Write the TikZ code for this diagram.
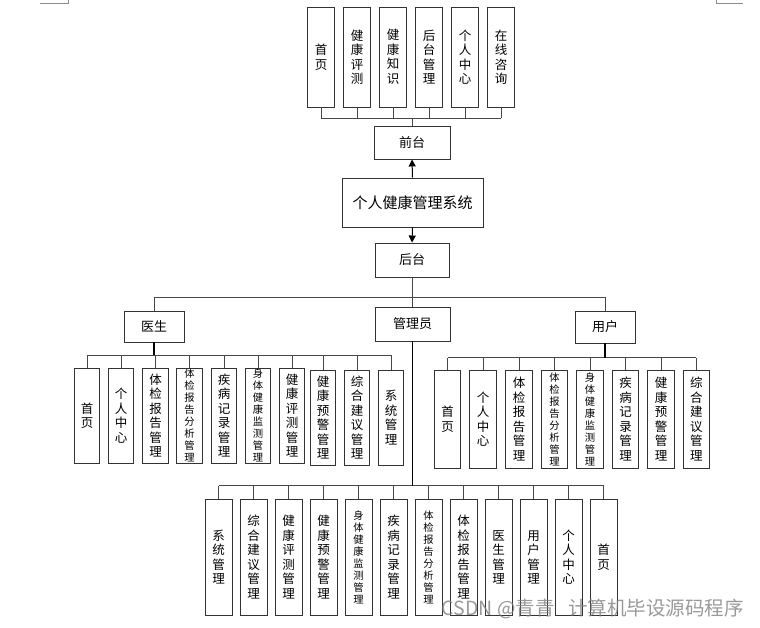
\documentclass[tikz,border=0pt]{standalone}
\usepackage{fontspec}
\newfontfamily\cjk{Noto Sans CJK SC}
\usetikzlibrary{arrows.meta}
\newcommand\fA{\fontsize{12.5}{14.5}\selectfont}
\newcommand\fB{\fontsize{10.3}{12}\selectfont}
\begin{document}
\begin{tikzpicture}[x=1pt,y=-1pt,
  ln/.style={draw=black!72, line width=0.9pt},
  trunk/.style={draw=black, line width=1.3pt},
  arr/.style={draw=black, line width=1pt, -{Triangle[length=7pt,width=7pt]}},
  bx/.style={draw=black!80, line width=0.9pt, fill=white, inner sep=0pt, align=center},
  hb/.style={bx, font=\cjk\fontsize{13}{15}\selectfont}]
\useasboundingbox (0,0) rectangle (760,628);
% corner marks
\draw[black!45, line width=0.8pt] (40,3) -- (68.3,3) -- (68.3,0);
\draw[black!45, line width=0.8pt] (716.7,0) -- (716.7,3) -- (742.7,3);

% top row
\foreach \x/\t [count=\i] in {321/首\\页, 357/健\\康\\评\\测, 393/健\\康\\知\\识, 429/后\\台\\管\\理, 465/个\\人\\中\\心, 501/在\\线\\咨\\询}
  \node[bx, font=\cjk\fA, minimum width=27pt, minimum height=100pt] (t\i) at (\x,57) {\t};
\node[hb, minimum width=76pt, minimum height=33pt] (qt) at (412,142.5) {前台};
\node[bx, font=\cjk\fontsize{15}{17}\selectfont, minimum width=141pt, minimum height=49pt] (sys) at (412.5,202.5) {个人健康管理系统};
\node[hb, minimum width=74pt, minimum height=34pt] (ht) at (412,260) {后台};
\coordinate (tb) at (412,118);
\foreach \i in {1,...,6} \draw[ln] (t\i.south) -- (t\i.south |- tb);
\draw[ln] (t1.south |- tb) -- (t6.south |- tb);
\draw[ln] (qt.north) -- (qt.north |- tb);
\draw[arr] (sys.north) -- (qt.south);
\draw[arr] (sys.south) -- (ht.north);

% second level
\node[hb, minimum width=60pt, minimum height=31pt] (ys) at (154,326.5) {医生};
\node[hb, minimum width=75pt, minimum height=34pt] (gl) at (412.5,324) {管理员};
\node[hb, minimum width=60pt, minimum height=32pt] (yh) at (605,327) {用户};
\coordinate (mb) at (412,297.5);
\draw[ln] (ht.south) -- (ht.south |- mb);
\draw[ln] (ys.north) -- (ys.north |- mb) -- (yh.north |- mb) -- (yh.north);
\draw[ln] (gl.north) -- (gl.north |- mb);

% doctor
\foreach \x/\y/\t/\s [count=\i] in {
  87/415.5/首\\页/\fA,
  121/415.5/个\\人\\中\\心/\fA,
  155.5/415.5/体\\检\\报\\告\\管\\理/\fA,
  189.5/415.5/体\\检\\报\\告\\分\\析\\管\\理/\fB,
  224/415.5/疾\\病\\记\\录\\管\\理/\fA,
  258/415.5/身\\体\\健\\康\\监\\测\\管\\理/\fB,
  292/415.5/健\\康\\评\\测\\管\\理/\fA,
  323/417.5/健\\康\\预\\警\\管\\理/\fA,
  357/417.5/综\\合\\建\\议\\管\\理/\fA,
  391/417.5/系\\统\\管\\理/\fA}
  \node[bx, font=\cjk\s, minimum width=25.5pt, minimum height=95pt] (d\i) at (\x,\y) {\t};
\coordinate (db) at (154,355);
\foreach \i in {1,...,10} \draw[ln] (d\i.north) -- (d\i.north |- db);
\draw[ln] (d1.north |- db) -- (d10.north |- db);
\draw[trunk] (ys.south) -- (ys.south |- db);

% user
\foreach \x/\t/\s [count=\i] in {
  447.5/首\\页/\fA,
  483/个\\人\\中\\心/\fA,
  519/体\\检\\报\\告\\管\\理/\fA,
  554.5/体\\检\\报\\告\\分\\析\\管\\理/\fB,
  590/身\\体\\健\\康\\监\\测\\管\\理/\fB,
  625.5/疾\\病\\记\\录\\管\\理/\fA,
  661/健\\康\\预\\警\\管\\理/\fA,
  696.3/综\\合\\建\\议\\管\\理/\fA}
  \node[bx, font=\cjk\s, minimum width=26.5pt, minimum height=98pt] (u\i) at (\x,419) {\t};
\coordinate (ub) at (605,357.7);
\foreach \i in {1,...,8} \draw[ln] (u\i.north) -- (u\i.north |- ub);
\draw[ln] (u1.north |- ub) -- (u8.north |- ub);
\draw[trunk] (yh.south) -- (yh.south |- ub);

% admin
\foreach \x/\t/\s [count=\i] in {
  218.5/系\\统\\管\\理/\fA,
  253.5/综\\合\\建\\议\\管\\理/\fA,
  288.5/健\\康\\评\\测\\管\\理/\fA,
  323.5/健\\康\\预\\警\\管\\理/\fA,
  358.5/身\\体\\健\\康\\监\\测\\管\\理/\fB,
  393.5/疾\\病\\记\\录\\管\\理/\fA,
  428.5/体\\检\\报\\告\\分\\析\\管\\理/\fB,
  463.5/体\\检\\报\\告\\管\\理/\fA,
  498.5/医\\生\\管\\理/\fA,
  533.5/用\\户\\管\\理/\fA,
  568.5/个\\人\\中\\心/\fA,
  603.5/首\\页/\fA}
  \node[bx, font=\cjk\s, minimum width=27pt, minimum height=116.5pt] (a\i) at (\x,557.25) {\t};
\coordinate (ab) at (412.7,485.7);
\foreach \i in {1,...,12} \draw[ln] (a\i.north) -- (a\i.north |- ab);
\draw[ln] (a1.north |- ab) -- (a12.north |- ab);
\draw[trunk] (gl.south -| ab) -- (ab);

% watermark
\node[anchor=base west, inner sep=0pt, text=black!50, opacity=0.8, font=\cjk\fontsize{19.5}{21}\selectfont] (wm) at (441.7,615) {CSDN @青青\hspace{0.7em}计算机毕设源码程序};
\end{tikzpicture}
\end{document}
